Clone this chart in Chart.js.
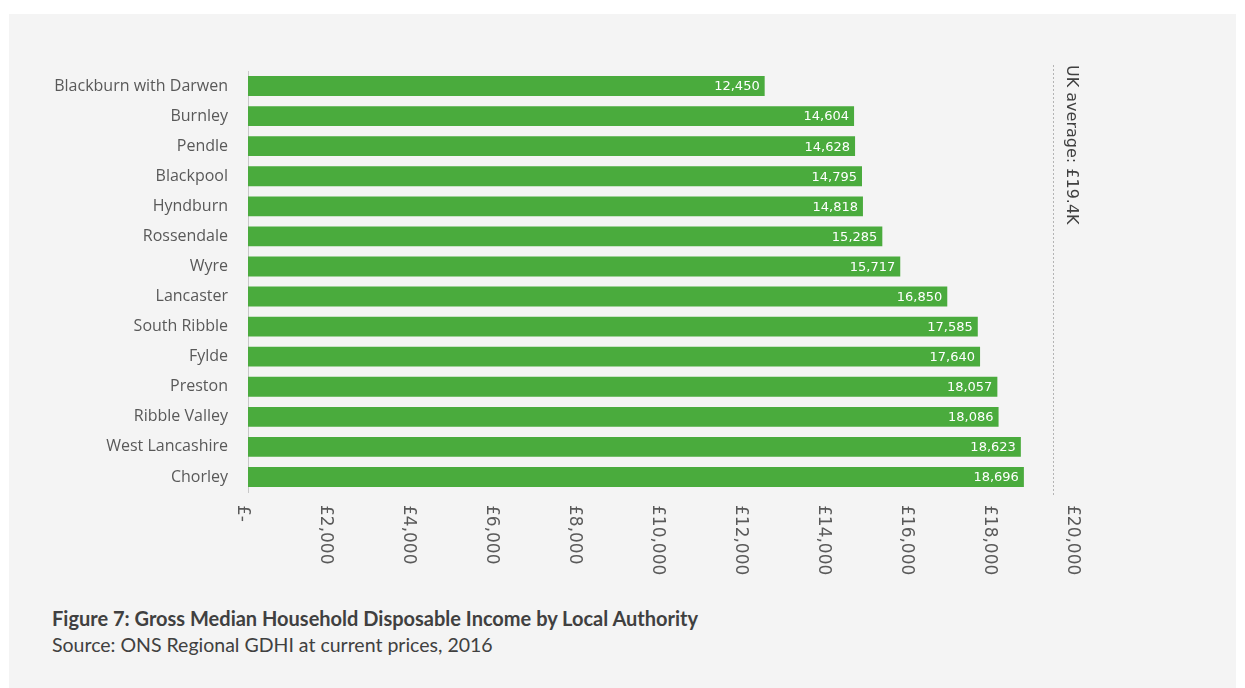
<!DOCTYPE html>
<html>
<head>
<meta charset="utf-8">
<script src="https://cdn.jsdelivr.net/npm/chart.js@4.4.0/dist/chart.umd.min.js"></script>
<style>
  body { margin: 0; background: #ffffff; width: 1245px; height: 688px; overflow: hidden; position: relative; }
  #panel { position: absolute; left: 9px; top: 14px; width: 1227px; height: 674px; background: #f4f4f4; }
  #myChart { position: absolute; left: 0; top: 0; }
  .caption { position: absolute; left: 43px; font-family: Lato, sans-serif; color: #404040; white-space: nowrap; }
  #figTitle { top: 592px; font-size: 20px; font-weight: bold; }
  #figSource { top: 619px; font-size: 19.5px; }
</style>
</head>
<body>
<div id="panel">
  <canvas id="myChart" width="1227" height="576"></canvas>
  <div class="caption" id="figTitle">Figure 7: Gross Median Household Disposable Income by Local Authority</div>
  <div class="caption" id="figSource">Source: ONS Regional GDHI at current prices, 2016</div>
</div>
<script>
var authorities = ['Blackburn with Darwen', 'Burnley', 'Pendle', 'Blackpool', 'Hyndburn', 'Rossendale', 'Wyre',
    'Lancaster', 'South Ribble', 'Fylde', 'Preston', 'Ribble Valley', 'West Lancashire', 'Chorley'];
var incomes = [12450, 14604, 14628, 14795, 14818, 15285, 15717, 16850, 17585, 17640, 18057, 18086, 18623, 18696];
var ukAverage = 19400;
var ukAverageLabel = 'UK average: £19.4K';
var axisMin = 0;
var axisMax = 20000;
var axisStep = 2000;

function formatPounds(v) {
    if (v === 0) return '£-';
    return '£' + v.toLocaleString('en-GB');
}

// value labels inside the end of each bar
var barLabels = {
    id: 'barLabels',
    afterDatasetsDraw: function (chart) {
        var ctx = chart.ctx;
        var meta = chart.getDatasetMeta(0);
        ctx.save();
        ctx.fillStyle = '#ffffff';
        ctx.font = '13px "DejaVu Sans"';
        ctx.textAlign = 'right';
        ctx.textBaseline = 'middle';
        meta.data.forEach(function (bar, i) {
            ctx.fillText(incomes[i].toLocaleString('en-GB'), bar.x - 5, bar.y + 1);
        });
        ctx.restore();
    }
};

// x tick labels turned clockwise, plus the UK average marker
var sideTexts = {
    id: 'sideTexts',
    afterDraw: function (chart) {
        var ctx = chart.ctx;
        var xs = chart.scales.x;
        var area = chart.chartArea;
        ctx.save();
        ctx.font = '17px "DejaVu Sans"';
        ctx.fillStyle = '#595959';
        ctx.textAlign = 'left';
        ctx.textBaseline = 'middle';
        xs.ticks.forEach(function (t) {
            var px = xs.getPixelForValue(t.value);
            ctx.save();
            ctx.translate(px - 6, area.bottom + 13);
            ctx.rotate(Math.PI / 2);
            ctx.fillText(formatPounds(t.value), 0, 0);
            ctx.restore();
        });

        var ux = Math.round(xs.getPixelForValue(ukAverage)) + 0.5;
        ctx.strokeStyle = '#b4b4b4';
        ctx.lineWidth = 1;
        ctx.setLineDash([2, 2]);
        ctx.beginPath();
        ctx.moveTo(ux, area.top - 6);
        ctx.lineTo(ux, area.bottom + 5);
        ctx.stroke();
        ctx.setLineDash([]);

        ctx.font = '16px "DejaVu Sans"';
        ctx.fillStyle = '#404040';
        ctx.translate(ux + 18, area.top - 6);
        ctx.rotate(Math.PI / 2);
        ctx.fillText(ukAverageLabel, 0, 0);
        ctx.restore();
    }
};

new Chart('myChart', {
    type: 'bar',
    data: {
        labels: authorities,
        datasets: [{
            data: incomes,
            backgroundColor: '#4aab3d',
            categoryPercentage: 1,
            barPercentage: 0.66
        }]
    },
    options: {
        indexAxis: 'y',
        responsive: false,
        animation: false,
        layout: {
            padding: { top: 57, right: 158, bottom: 0, left: 0 }
        },
        plugins: {
            legend: { display: false },
            title: { display: false },
            tooltip: { enabled: false }
        },
        scales: {
            x: {
                min: axisMin,
                max: axisMax,
                grid: { display: false },
                border: { display: false },
                ticks: { stepSize: axisStep, display: false },
                afterFit: function (scale) { scale.height = 98; }
            },
            y: {
                grid: { display: false, drawTicks: false },
                border: { display: true, color: '#c8c8c8' },
                ticks: {
                    color: '#595959',
                    padding: 20,
                    font: { family: '"Open Sans"', size: 16 }
                },
                afterFit: function (scale) { scale.width = 239; }
            }
        }
    },
    plugins: [barLabels, sideTexts]
});
</script>
</body>
</html>
